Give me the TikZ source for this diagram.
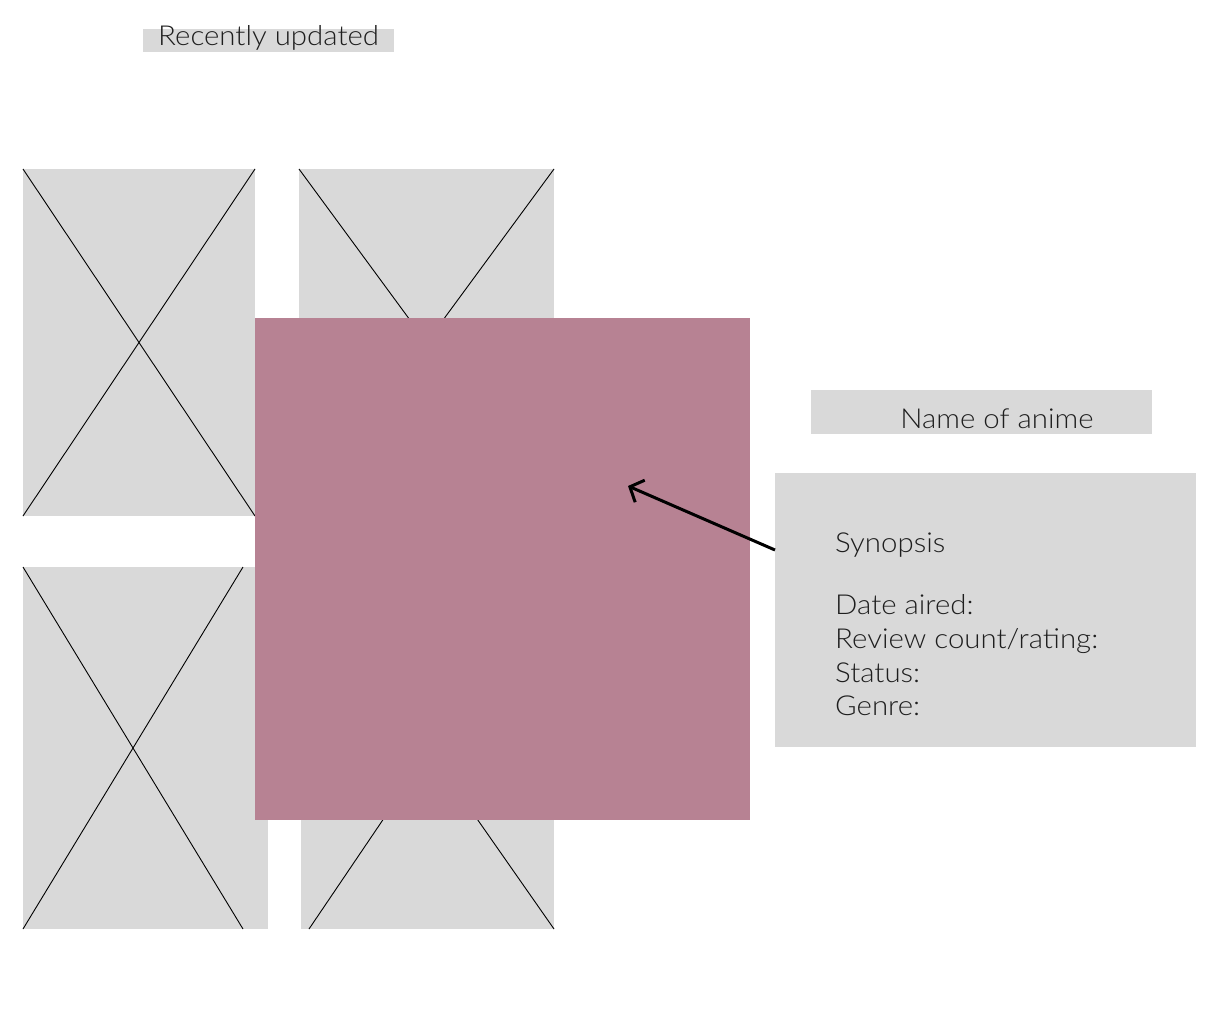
\documentclass[tikz,border=0pt]{standalone}
\usepackage{fontspec}
\setmainfont{Lato}[UprightFont={* Light},FakeStretch=1.07]
\usetikzlibrary{arrows.meta}
\definecolor{boxgray}{HTML}{D9D9D9}
\definecolor{mauve}{HTML}{B78293}
\definecolor{ink}{HTML}{1E1E1E}
\begin{document}
\begin{tikzpicture}[x=1pt,y=-1pt,
  panel/.style={fill=boxgray,draw=none,inner sep=0pt,outer sep=0pt,anchor=north west},
  xline/.style={draw=black,line width=0.9pt},
  label/.style={inner sep=0pt,anchor=base west,text=ink,font=\fontsize{27.5}{33}\selectfont},
  arrowline/.style={draw=black,line width=3pt,-{Straight Barb[length=11pt,width=24pt,line width=3pt]}}]
\useasboundingbox (0,0) rectangle (1222,1019);
% top label
\node[panel,minimum width=251pt,minimum height=23pt] (toplbl) at (143,29) {};
\node[label] (toptxt) at (158,46) {Recently updated};
% image placeholders
\node[panel,minimum width=232pt,minimum height=347pt] (img1) at (23,169) {};
\node[panel,minimum width=255pt,minimum height=347pt] (img2) at (299,169) {};
\node[panel,minimum width=245pt,minimum height=362pt] (img3) at (23,567) {};
\node[panel,minimum width=253pt,minimum height=362pt] (img4) at (301,567) {};
\draw[xline] (img1.north west) -- (img1.south east);
\draw[xline] (img1.north east) -- (img1.south west);
\draw[xline] (img2.north west) -- (img2.south east);
\draw[xline] (img2.north east) -- (img2.south west);
\coordinate (c3a) at (243,567);
\coordinate (c3b) at (243,929);
\draw[xline] (img3.north west) -- (c3b);
\draw[xline] (c3a) -- (img3.south west);
\coordinate (c4a) at (309,929);
\draw[xline] (c4a) -- (img4.north east);
\draw[xline] (img4.north west) -- (img4.south east);
% highlighted card
\node[panel,fill=mauve,minimum width=495pt,minimum height=502pt] (card) at (255,318) {};
% name box
\node[panel,minimum width=341pt,minimum height=44pt] (namebox) at (811,390) {};
\node[label,anchor=base] (nametxt) at (997,428) {Name of anime};
% info box
\node[panel,minimum width=421pt,minimum height=274pt] (info) at (775,473) {};
\node[label] (syn) at (835,552) {Synopsis};
\node[label] (date) at (835,614) {Date aired:};
\node[label] (rev) at (835,648) {Review count/rating:};
\node[label] (stat) at (835,682) {Status:};
\node[label] (genre) at (835,715) {Genre:};
% arrow
\coordinate (astart) at (775,550);
\coordinate (aend) at (628,486);
\draw[arrowline] (astart) -- (aend);
\end{tikzpicture}
\end{document}
